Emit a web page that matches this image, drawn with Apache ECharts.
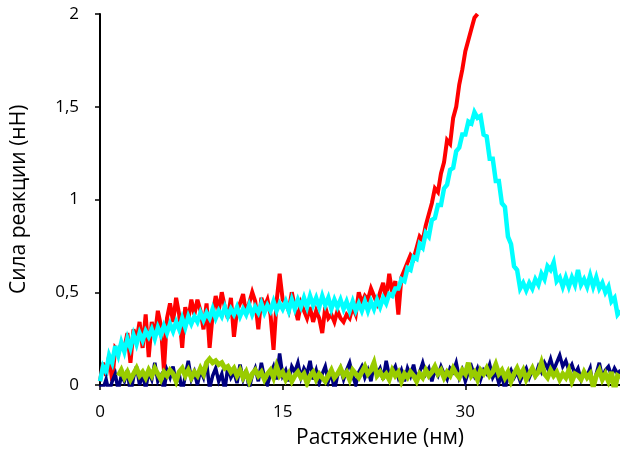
<!DOCTYPE html>
<html>
<head>
<meta charset="utf-8">
<script src="https://cdn.jsdelivr.net/npm/echarts@6/dist/echarts.min.js"></script>
<style>
  html, body { margin: 0; padding: 0; background: #fff; }
  #chart { width: 620px; height: 460px; }
</style>
</head>
<body>
<div id="chart"></div>
<script>
// Sampling step of the force curves (nm)
const step = 0.25;
const xTicks = [0, 15, 30];
const yTicks = [0, 0.5, 1, 1.5, 2];

// Force (nN) sampled every 0.25 nm from 0 nm
const redForce = [
  0.02, 0.12, 0.05, 0.16, 0.02, 0.2, 0.18, 0.22,
  0.2, 0.28, 0.12, 0.3, 0.24, 0.34, 0.2, 0.38,
  0.15, 0.34, 0.26, 0.4, 0.32, 0.08, 0.36, 0.44,
  0.34, 0.47, 0.38, 0.2, 0.42, 0.35, 0.46, 0.38,
  0.46, 0.4, 0.3, 0.44, 0.2, 0.38, 0.48, 0.4,
  0.5, 0.42, 0.36, 0.47, 0.26, 0.4, 0.44, 0.49,
  0.38, 0.44, 0.5, 0.45, 0.3, 0.47, 0.42, 0.46,
  0.38, 0.19, 0.45, 0.6, 0.46, 0.44, 0.4, 0.5,
  0.42, 0.35, 0.44, 0.4, 0.36, 0.42, 0.34, 0.4,
  0.36, 0.28, 0.42, 0.36, 0.38, 0.34, 0.4, 0.36,
  0.34, 0.38, 0.36, 0.42, 0.38, 0.5, 0.44, 0.48,
  0.46, 0.52, 0.48, 0.44, 0.5, 0.55, 0.46, 0.6,
  0.5, 0.56, 0.38, 0.58, 0.62, 0.66, 0.7, 0.68,
  0.74, 0.8, 0.78, 0.86, 0.92, 0.98, 1.06, 1.04,
  1.14, 1.2, 1.32, 1.3, 1.44, 1.5, 1.62, 1.7,
  1.8, 1.86, 1.92, 1.98, 2.0
];

const cyanForce = [
  0.02, 0.1, 0.07, 0.16, 0.12, 0.21, 0.16, 0.23,
  0.18, 0.25, 0.2, 0.27, 0.22, 0.28, 0.24, 0.29,
  0.26, 0.3, 0.25, 0.31, 0.27, 0.32, 0.28, 0.33,
  0.29, 0.34, 0.3, 0.36, 0.31, 0.37, 0.33, 0.37,
  0.34, 0.39, 0.35, 0.39, 0.36, 0.41, 0.36, 0.4,
  0.37, 0.42, 0.37, 0.41, 0.38, 0.42, 0.37, 0.41,
  0.38, 0.43, 0.38, 0.42, 0.39, 0.44, 0.39, 0.43,
  0.4, 0.45, 0.4, 0.44, 0.41, 0.45, 0.4, 0.46,
  0.41, 0.46, 0.42, 0.47, 0.42, 0.48, 0.43, 0.47,
  0.42, 0.48, 0.43, 0.47, 0.41, 0.46, 0.42, 0.46,
  0.41, 0.45, 0.4, 0.45, 0.4, 0.44, 0.4, 0.45,
  0.4, 0.45, 0.41, 0.46, 0.42, 0.47, 0.44, 0.49,
  0.48, 0.52, 0.52, 0.57, 0.56, 0.63, 0.62, 0.69,
  0.68, 0.76, 0.74, 0.82, 0.8, 0.89, 0.9, 0.97,
  0.97, 1.06, 1.08, 1.16, 1.17, 1.26, 1.28, 1.35,
  1.35, 1.42, 1.41, 1.47, 1.44, 1.45, 1.35, 1.34,
  1.22, 1.22, 1.1, 1.1, 0.98, 0.96, 0.8, 0.76,
  0.64, 0.62, 0.52, 0.55, 0.51, 0.55, 0.52, 0.57,
  0.54, 0.6, 0.57, 0.64, 0.62, 0.66, 0.56, 0.58,
  0.53, 0.58, 0.53, 0.58, 0.54, 0.62, 0.54, 0.57,
  0.53, 0.59, 0.53, 0.58, 0.52, 0.55, 0.5, 0.53,
  0.45, 0.47, 0.38, 0.4
];

const navyForce = [
  0.0, -0.02, 0.03, -0.04, 0.02, 0.06, -0.03, 0.05,
  0.02, 0.08, -0.05, 0.04, 0.1, 0.0, 0.06, -0.02,
  0.07, 0.03, 0.12, 0.02, 0.05, -0.03, 0.08, 0.04,
  0.1, 0.01, 0.06, -0.04, 0.05, 0.13, 0.03, 0.07,
  0.0, 0.08, 0.04, 0.12, -0.02, 0.05, 0.09, 0.02,
  0.06, -0.03, 0.1, 0.04, 0.07, 0.01, 0.11, 0.03,
  0.08, -0.02, 0.05, 0.09, 0.02, 0.12, 0.04, 0.0,
  0.06, 0.1, 0.03, 0.17, 0.05, 0.08, 0.02, 0.1,
  0.07, 0.12, 0.04, 0.09, 0.06, 0.13, 0.03, 0.08,
  0.01, 0.06, 0.1, 0.02, 0.07, -0.03, 0.05, 0.09,
  0.03, 0.08, 0.12, 0.05, 0.0, 0.07, 0.1, 0.04,
  0.08, 0.02, 0.11, 0.06, 0.09, 0.03, 0.13, 0.05,
  0.07, 0.1, 0.04, 0.08, 0.02, 0.09, 0.05, 0.11,
  0.03, 0.07, 0.12, 0.06, 0.09, 0.02, 0.08, 0.05,
  0.1, 0.06, 0.03, 0.09, 0.07, 0.12, 0.04, 0.08,
  0.02, 0.07, 0.1, 0.05, 0.09, 0.03, 0.08, 0.06,
  0.11, 0.04, 0.07, 0.01, 0.06, -0.03, 0.05, 0.08,
  0.04, 0.07, 0.02, 0.06, 0.09, 0.04, 0.08, 0.05,
  0.1, 0.07, 0.12, 0.09, 0.14, 0.08, 0.12, 0.16,
  0.1, 0.13, 0.08, 0.11, 0.06, 0.09, 0.03, 0.07,
  0.05, 0.09, -0.02, 0.06, 0.12, 0.04, 0.08, 0.1,
  0.05, 0.09, 0.06, 0.08
];

// The green curve begins at 1.5 nm
const greenStart = 1.5;
const greenForce = [
  0.05, 0.08, 0.04, 0.07, 0.03, 0.06, 0.09, 0.05,
  0.07, 0.04, 0.08, 0.05, 0.09, 0.06, 0.03, 0.07,
  0.05, 0.08, 0.06, 0.02, 0.07, 0.09, 0.05, 0.08,
  0.04, 0.07, 0.05, 0.09, 0.06, 0.12, 0.14, 0.12,
  0.13, 0.11, 0.12, 0.09, 0.1, 0.07, 0.09, 0.05,
  0.08, 0.04, 0.07, 0.02, 0.06, 0.08, 0.05, 0.07,
  0.03, 0.06, 0.08, 0.04, 0.1, 0.05, 0.07, 0.03,
  0.06, 0.02, 0.05, 0.07, 0.04, 0.06, 0.01, 0.05,
  0.07, 0.03, 0.06, 0.04, 0.02, 0.05, 0.08, 0.04,
  0.06, 0.09, 0.05, 0.07, 0.03, 0.08, 0.06, 0.04,
  0.07, 0.1, 0.06, 0.08, 0.12, 0.05, 0.07, 0.04,
  0.06, 0.03, 0.08, 0.05, 0.07, 0.02, 0.06, 0.04,
  0.07, 0.05, 0.02, 0.06, 0.04, 0.08, 0.05, 0.07,
  0.1, 0.06, 0.08, 0.04, 0.07, 0.05, 0.09, 0.06,
  0.04, 0.08, 0.06, 0.12, 0.05, 0.07, 0.03, 0.08,
  0.06, 0.09, 0.05, 0.07, 0.11, 0.06, 0.08, 0.04,
  0.07, 0.02, 0.06, 0.09, 0.05, 0.08, 0.03, 0.06,
  0.09, 0.05, 0.07, 0.12, 0.06, 0.04, 0.08, 0.05,
  0.07, 0.03, 0.06, 0.04, 0.08, 0.02, 0.06, 0.05,
  0.03, 0.07, 0.04, 0.06, -0.01, 0.05, 0.08, 0.03,
  0.06, 0.02, 0.07, -0.03, 0.05, 0.04
];

function toPairs(values, start) {
  return values.map((v, i) => [start + i * step, v]);
}

const FONT = 'Open Sans';
const chart = echarts.init(document.getElementById('chart'), null, { renderer: 'canvas' });

function curve(name, values, start, color, width) {
  return {
    name: name,
    type: 'line',
    data: toPairs(values, start),
    showSymbol: false,
    symbol: 'none',
    clip: true,
    animation: false,
    lineStyle: { color: color, width: width, join: 'miter', miterLimit: 4 }
  };
}

chart.setOption({
  backgroundColor: '#ffffff',
  animation: false,
  grid: { left: 100, right: 0, top: 14, bottom: 75, containLabel: false },
  xAxis: {
    type: 'value',
    min: 0,
    max: 42.7,
    interval: 15,
    splitLine: { show: false },
    axisLine: { show: true, onZero: false, lineStyle: { color: '#000', width: 2 } },
    axisTick: { show: true, length: 5, customValues: xTicks, lineStyle: { color: '#000', width: 1.5 } },
    axisLabel: {
      customValues: xTicks,
      margin: 19,
      color: '#000',
      fontFamily: FONT,
      fontSize: 17
    }
  },
  yAxis: {
    type: 'value',
    min: 0,
    max: 2,
    interval: 0.5,
    splitLine: { show: false },
    axisLine: { show: true, lineStyle: { color: '#000', width: 2 } },
    axisTick: { show: true, length: 5, lineStyle: { color: '#000', width: 1.5 } },
    axisLabel: {
      margin: 21,
      color: '#000',
      fontFamily: FONT,
      fontSize: 17,
      formatter: v => String(v).replace('.', ',')
    }
  },
  graphic: [
    {
      type: 'text',
      left: 296, top: 428,
      style: { text: 'Растяжение (нм)', fontFamily: FONT, fontSize: 21, fill: '#000' }
    },
    {
      type: 'text',
      x: 9, y: 294,
      rotation: Math.PI / 2,
      style: { text: 'Сила реакции (нН)', fontFamily: FONT, fontSize: 21, fill: '#000' }
    }
  ],
  series: [
    curve('red', redForce, 0, '#ff0000', 4),
    curve('cyan', cyanForce, 0, '#00ffff', 4.5),
    curve('navy', navyForce, 0, '#000080', 3.5),
    curve('green', greenForce, greenStart, '#99cc00', 5)
  ]
});
</script>
</body>
</html>
